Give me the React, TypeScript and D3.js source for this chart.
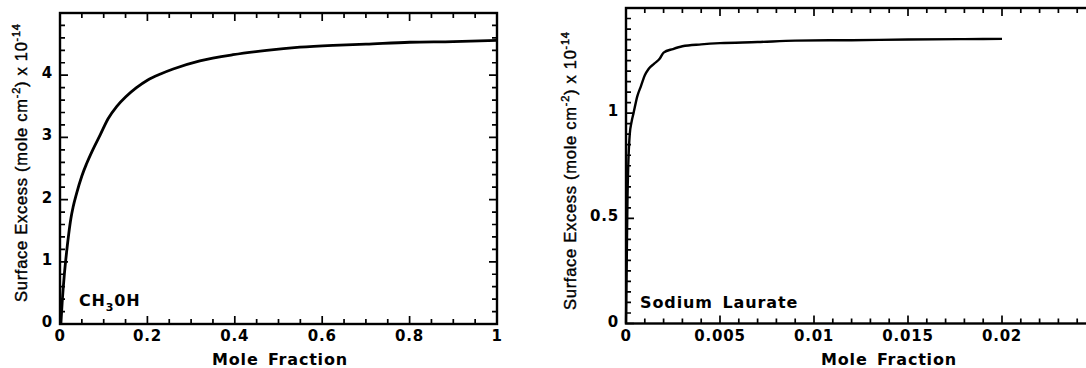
import React from "react";
import * as d3 from "d3";

// ---- Data ----
const methanolX = [0.002, 0.005, 0.01, 0.015, 0.02, 0.025, 0.03, 0.038, 0.05, 0.061, 0.075, 0.092, 0.11, 0.13, 0.15, 0.175, 0.2, 0.23, 0.259, 0.32, 0.396, 0.473, 0.549, 0.625, 0.7, 0.8, 0.9, 1.0];
const methanolY = [0, 0.35, 0.8, 1.15, 1.45, 1.7, 1.88, 2.1, 2.38, 2.58, 2.8, 3.04, 3.3, 3.5, 3.65, 3.8, 3.92, 4.02, 4.1, 4.23, 4.33, 4.4, 4.45, 4.48, 4.5, 4.53, 4.54, 4.56];

const laurateX = [0, 0.00004, 0.00008, 0.00012, 0.0002, 0.0003, 0.0004, 0.0006, 0.0008, 0.001, 0.0012, 0.0015, 0.0018, 0.002, 0.0025, 0.003, 0.004, 0.005, 0.007, 0.009, 0.012, 0.015, 0.018, 0.02];
const laurateY = [0, 0.3, 0.6, 0.75, 0.9, 0.96, 1.0, 1.08, 1.13, 1.18, 1.21, 1.235, 1.26, 1.288, 1.305, 1.318, 1.327, 1.333, 1.338, 1.345, 1.347, 1.35, 1.352, 1.353];

const methanolXTicks = [0, 0.2, 0.4, 0.6, 0.8, 1];
const methanolXTickLabels = ["0", "0.2", "0.4", "0.6", "0.8", "1"];
const methanolYTicks = [0, 1, 2, 3, 4];
const methanolYTickLabels = ["0", "1", "2", "3", "4"];

const laurateXTicks = [0, 0.005, 0.01, 0.015, 0.02];
const laurateXTickLabels = ["0", "0.005", "0.01", "0.015", "0.02"];
const laurateYTicks = [0, 0.5, 1];
const laurateYTickLabels = ["0", "0.5", "1"];

const BOLD = "'DejaVu Sans', 'Liberation Sans', Arial, sans-serif";
const REG = "'Liberation Sans', Arial, Helvetica, sans-serif";

type PanelProps = {
  xs: number[];
  ys: number[];
  left: number;
  right: number;
  top: number;
  bottom: number;
  xDomain: [number, number];
  yDomain: [number, number];
  xMajor: number[];
  xLabels: string[];
  yMajor: number[];
  yLabels: string[];
  xMinorStep: number;
  yMinorStep: number;
  yTitleX: number;
  yTitleY: number;
  yTitleLen: number;
  xTitleX: number;
  yLabelRight: number;
  label: React.ReactNode;
  lineWidth: number;
};

function Panel(p: PanelProps) {
  const x = d3.scaleLinear().domain(p.xDomain).range([p.left, p.right]);
  const y = d3.scaleLinear().domain(p.yDomain).range([p.bottom, p.top]);
  const pts = p.xs.map((v, i) => [v, p.ys[i]] as [number, number]);
  const line = d3
    .line<[number, number]>()
    .x((d) => x(d[0]))
    .y((d) => y(d[1]))
    .curve(d3.curveMonotoneX);

  const nxm = Math.round((p.xDomain[1] - p.xDomain[0]) / p.xMinorStep);
  const xMinor = d3.range(nxm + 1).map((i) => p.xDomain[0] + i * p.xMinorStep);
  const nym = Math.round((p.yDomain[1] - p.yDomain[0]) / p.yMinorStep);
  const yMinor = d3.range(nym + 1).map((i) => p.yDomain[0] + i * p.yMinorStep);
  const isMajor = (v: number, arr: number[], step: number) =>
    arr.some((m) => Math.abs(m - v) < step / 10);

  const MAJ = 8;
  const MIN = 5;

  let tickPath = "";
  xMinor.forEach((v) => {
    const L = isMajor(v, p.xMajor, p.xMinorStep) ? MAJ : MIN;
    const px = x(v);
    tickPath += `M${px},${p.bottom}V${p.bottom - L}`;
    tickPath += `M${px},${p.top}V${p.top + L}`;
  });
  yMinor.forEach((v) => {
    const L = isMajor(v, p.yMajor, p.yMinorStep) ? MAJ : MIN;
    const py = y(v);
    tickPath += `M${p.left},${py}H${p.left + L}`;
    tickPath += `M${p.right},${py}H${p.right - L}`;
  });

  return (
    <g>
      <path d={tickPath} fill="none" stroke="#000" strokeWidth={1.7} />
      <rect
        x={p.left}
        y={p.top}
        width={p.right - p.left}
        height={p.bottom - p.top}
        fill="none"
        stroke="#000"
        strokeWidth={2.4}
      />
      <path d={line(pts) || ""} fill="none" stroke="#000" strokeWidth={p.lineWidth} strokeLinejoin="round" />
      {p.xMajor.map((v, i) => (
        <text
          key={"xl" + i}
          x={x(v)}
          y={p.bottom + 17}
          textAnchor="middle"
          fontFamily={BOLD}
          fontWeight="bold"
          fontSize={15}
          letterSpacing={0.8}
        >
          {p.xLabels[i]}
        </text>
      ))}
      {p.yMajor.map((v, i) => (
        <text
          key={"yl" + i}
          x={p.yLabelRight}
          y={y(v) + 3}
          textAnchor="end"
          fontFamily={BOLD}
          fontWeight="bold"
          fontSize={15}
          letterSpacing={0.8}
        >
          {p.yLabels[i]}
        </text>
      ))}
      <text
        x={p.xTitleX}
        y={365}
        textAnchor="middle"
        fontFamily={BOLD}
        fontWeight="bold"
        fontSize={16}
        letterSpacing={0.8}
        wordSpacing={3}
      >
        Mole Fraction
      </text>
      <text
        transform={`translate(${p.yTitleX},${p.yTitleY}) rotate(-90)`}
        textAnchor="middle"
        fontFamily={REG}
        fontSize={16.5}
        stroke="#000"
        strokeWidth={0.4}
        textLength={p.yTitleLen}
        lengthAdjust="spacing"
      >
        Surface Excess (mole cm
        <tspan fontSize={11} dy={-7}>-2</tspan>
        <tspan dy={7}>) x 10</tspan>
        <tspan fontSize={11} dy={-7}>-14</tspan>
      </text>
      {p.label}
    </g>
  );
}

export default function App() {
  return (
    <svg
      width={1086}
      height={368}
      style={{ position: "absolute", left: 0, top: 0, background: "#fff" }}
    >
      <rect x={0} y={0} width={1086} height={368} fill="#fff" />
      <Panel
        xs={methanolX}
        ys={methanolY}
        left={60}
        right={497}
        top={13}
        bottom={324}
        xDomain={[0, 1]}
        yDomain={[0, 5]}
        xMajor={methanolXTicks}
        xLabels={methanolXTickLabels}
        yMajor={methanolYTicks}
        yLabels={methanolYTickLabels}
        xMinorStep={0.05}
        yMinorStep={0.2}
        yTitleX={27}
        yTitleY={163}
        yTitleLen={278}
        xTitleX={280}
        yLabelRight={53}
        lineWidth={2.8}
        label={
          <text x={79} y={306} fontFamily={BOLD} fontWeight="bold" fontSize={16} letterSpacing={0.8}>
            CH
            <tspan fontSize={11} dy={5}>3</tspan>
            <tspan dy={-5}>0H</tspan>
          </text>
        }
      />
      <Panel
        xs={laurateX}
        ys={laurateY}
        left={626}
        right={1096}
        top={8}
        bottom={323.5}
        xDomain={[0, 0.025]}
        yDomain={[0, 1.5]}
        xMajor={laurateXTicks}
        xLabels={laurateXTickLabels}
        yMajor={laurateYTicks}
        yLabels={laurateYTickLabels}
        xMinorStep={0.001}
        yMinorStep={0.05}
        yTitleX={576}
        yTitleY={171}
        yTitleLen={278}
        xTitleX={889}
        yLabelRight={619}
        lineWidth={2.4}
        label={
          <text x={640} y={308} fontFamily={BOLD} fontWeight="bold" fontSize={16} letterSpacing={0.9} wordSpacing={3}>
            Sodium Laurate
          </text>
        }
      />
    </svg>
  );
}
